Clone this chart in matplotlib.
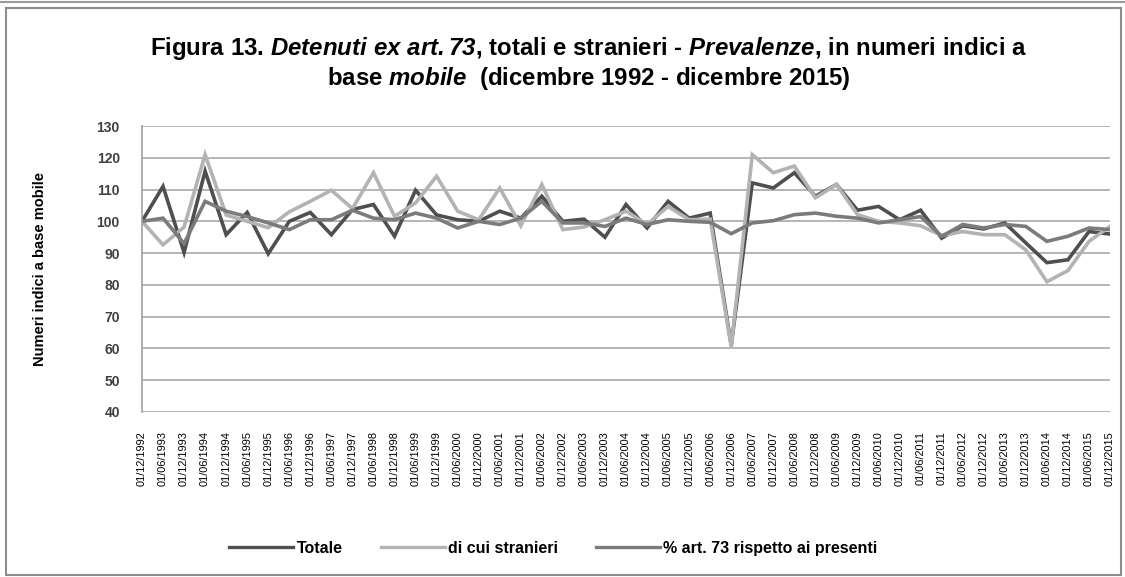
import numpy as np
import matplotlib
matplotlib.use("Agg")
import matplotlib.pyplot as plt
from matplotlib.lines import Line2D
from matplotlib.patches import Rectangle

plt.rcParams["font.family"] = ["Liberation Sans", "DejaVu Sans"]
plt.rcParams["mathtext.fontset"] = "custom"
plt.rcParams["mathtext.rm"] = "Liberation Sans:italic:bold"
plt.rcParams["mathtext.it"] = "Liberation Sans:italic:bold"
plt.rcParams["mathtext.bf"] = "Liberation Sans:italic:bold"

# semiannual dates, dicembre 1992 - dicembre 2015
date_labels = []
for year in range(1992, 2016):
    if year > 1992:
        date_labels.append("01/06/%d" % year)
    date_labels.append("01/12/%d" % year)

totale = [100, 111, 90.2, 115.8, 95.8, 102.8, 89.8, 100, 102.8, 95.8,
          103.7, 105.3, 95.3, 109.8, 102, 100.5, 100, 103.2, 101, 107.9,
          100, 100.7, 95, 105.3, 97.9, 106.3, 101, 102.6, 61, 112.1,
          110.5, 115.3, 107.9, 111.6, 103.5, 104.7, 100.5, 103.5, 94.7, 98.6,
          97.6, 99.5, 93.2, 87, 87.9, 96.8, 96]
stranieri = [100, 92.6, 98.2, 121, 102, 100, 98, 103, 106.3, 109.8,
             104, 115.3, 101.6, 105.8, 114.2, 103.2, 100.5, 110.5, 98.6, 111.6,
             97.4, 98.2, 100.5, 103.2, 99, 104.7, 100.5, 100.7, 60.5, 121,
             115.3, 117.4, 107.4, 111.6, 102.1, 100, 99.5, 98.6, 95.5, 96.8,
             95.8, 95.8, 91, 81, 84.5, 93.7, 98.4]
perc_art73 = [100, 101, 93, 106.3, 103.2, 101.5, 99.5, 97.4, 100.5, 100.5,
              103.5, 101, 100.5, 102.6, 101, 97.9, 100, 99, 101, 106.3,
              99.5, 99.5, 98.4, 101, 99, 100.5, 100, 99.7, 96.1, 99.5,
              100.2, 102.1, 102.6, 101.6, 101, 99.5, 100.5, 101.5, 95.3, 99,
              97.9, 99, 98.4, 93.7, 95.3, 97.9, 97.4]

series = [
    ("Totale", totale, "#4f4f4f"),
    ("di cui stranieri", stranieri, "#b3b3b3"),
    ("% art. 73 rispetto ai presenti", perc_art73, "#7b7b7b"),
]

fig = plt.figure(figsize=(11.25, 5.77), dpi=100)
ax = fig.add_axes([0.1262, 0.286, 0.8605, 0.4956])

x = np.arange(len(date_labels))
for name, vals, col in series:
    ax.plot(x, vals, color=col, lw=2.6, solid_joinstyle="miter", label=name)

ax.set_xlim(0, len(date_labels) - 1)
ax.set_ylim(40, 130)
ax.set_yticks(np.arange(40, 131, 10))
ax.yaxis.grid(True, color="#b5b5b5", lw=1.4)
ax.set_axisbelow(True)
ax.set_xticks(x)
ax.set_xticklabels(date_labels, rotation=90, fontsize=7.9)
ax.tick_params(axis="x", length=0, pad=14)
ax.tick_params(axis="y", length=0, pad=16, labelsize=10, labelcolor="#404040")
for lab in ax.get_yticklabels():
    lab.set_fontweight("bold")
for s in ["top", "right", "bottom"]:
    ax.spines[s].set_visible(False)
ax.spines["left"].set_color("#a0a0a0")
ax.spines["left"].set_linewidth(1.2)

ax.set_ylabel("Numeri indici a base mobile", fontsize=10.5, fontweight="bold", labelpad=36)

fig.text(0.523, 0.916, "Figura 13. $Detenuti\\ ex\\ art.73$, totali e stranieri - "
         "$Prevalenze$, in numeri indici a", ha="center", va="center",
         fontsize=17.3, fontweight="bold")
fig.text(0.523, 0.864, "base $mobile$  (dicembre 1992 - dicembre 2015)",
         ha="center", va="center", fontsize=17.3, fontweight="bold")

handles = [Line2D([], [], color=c, lw=2.4) for _, _, c in series]
fig.legend(handles, [n for n, _, _ in series], loc="center", bbox_to_anchor=(0.492, 0.05),
           ncol=3, frameon=False, prop={"size": 11.5, "weight": "bold"},
           handlelength=4.0, columnspacing=2.4, handletextpad=0.2)

fig.patches.append(Rectangle((0.005, 0.004), 0.991, 0.982, transform=fig.transFigure,
                             fill=False, edgecolor="#8c8c8c", lw=1.5))
fig.add_artist(Line2D([0, 1], [0.997, 0.997], transform=fig.transFigure,
                      color="#9a9a9a", lw=1.5))

fig.savefig("out.png", dpi=100, facecolor="white")
